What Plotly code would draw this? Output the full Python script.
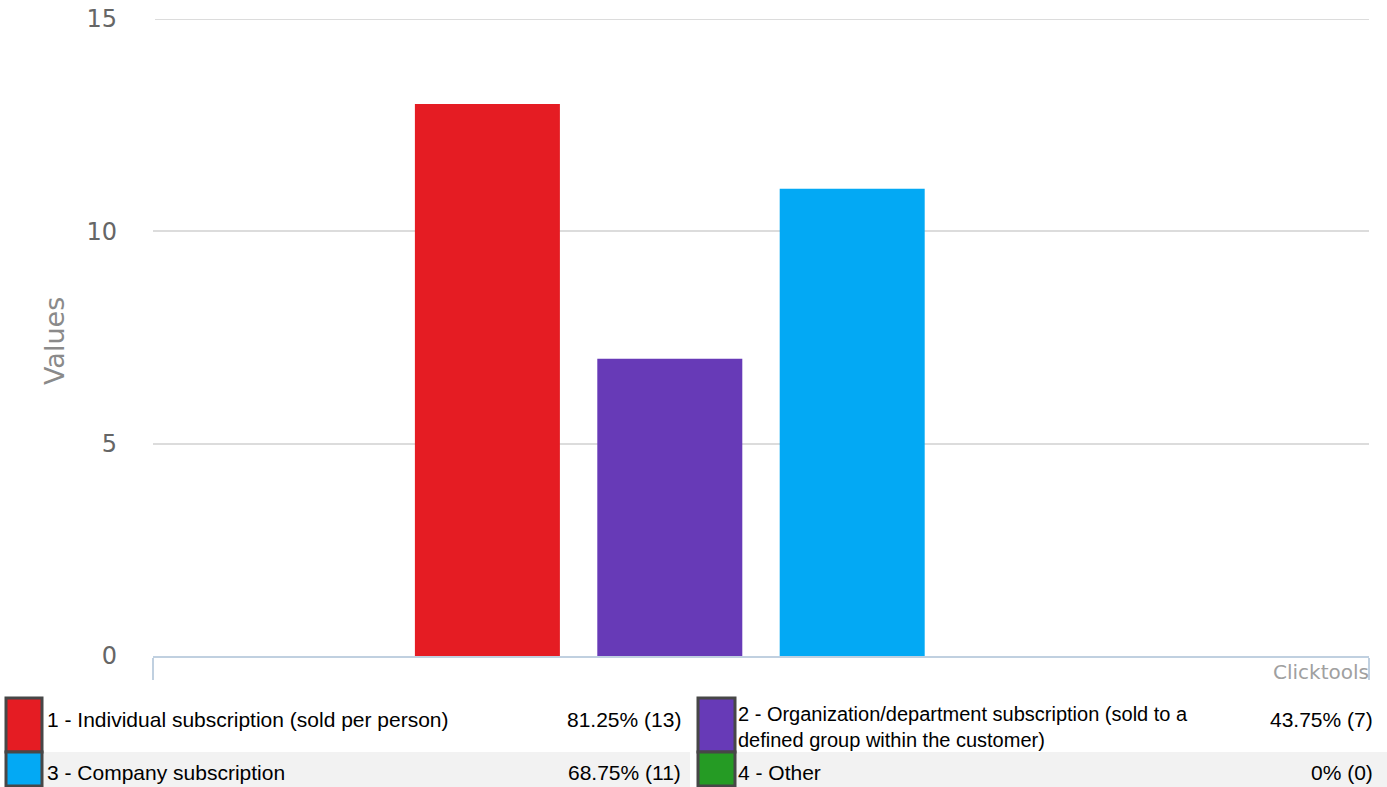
import plotly.graph_objects as go

# ---- data ----
categories = ["Responses"]
series_names = [
    "1 - Individual subscription (sold per person)",
    "2 - Organization/department subscription (sold to a<br>defined group within the customer)",
    "3 - Company subscription",
    "4 - Other",
]
series_values = [13, 7, 11, 0]
percent_labels = ["81.25%", "43.75%", "68.75%", "0%"]
series_colors = ["#E51C23", "#673AB7", "#03A9F4", "#259B24"]
y_tickvals = [0, 5, 10, 15]

W, H = 1387, 787
L, R, T, B = 153, 18, 19, 131
PW, PH = W - L - R, H - T - B


def px_x(x):
    return (x - L) / PW


def px_y(y):
    return (H - B - y) / PH


fig = go.Figure()
for name, val, col in zip(series_names, series_values, series_colors):
    fig.add_trace(go.Bar(x=categories, y=[val], name=name, marker=dict(color=col, line=dict(width=0)),
                         showlegend=False))

shapes = []
annotations = []

# top gridline (plotly skips the grid line lying on the plot edge)
shapes.append(dict(type="line", xref="paper", yref="y", x0=px_x(155), x1=1, y0=y_tickvals[-1], y1=y_tickvals[-1],
                   line=dict(color="#DCDCDC", width=2), layer="below"))

# legend table: background stripe of second row
shapes.append(dict(type="rect", xref="paper", yref="paper", x0=px_x(6), x1=px_x(690), y0=px_y(787), y1=px_y(752),
                   fillcolor="#F2F2F2", line=dict(width=0), layer="below"))
shapes.append(dict(type="rect", xref="paper", yref="paper", x0=px_x(697), x1=px_x(1387), y0=px_y(787), y1=px_y(752),
                   fillcolor="#F2F2F2", line=dict(width=0), layer="below"))

cells = [
    dict(bx0=6, bx1=42, by0=698, by1=752, tx=45, rx=683, ty=719),
    dict(bx0=698, bx1=735, by0=698, by1=752, tx=736, rx=1375, ty=719),
    dict(bx0=6, bx1=42, by0=752, by1=786, tx=45, rx=683, ty=772),
    dict(bx0=698, bx1=735, by0=752, by1=786, tx=736, rx=1375, ty=772),
]
FONT = "Liberation Sans, Arial, sans-serif"
FS = 21
for i, c in enumerate(cells):
    shapes.append(dict(type="rect", xref="paper", yref="paper",
                       x0=px_x(c["bx0"]), x1=px_x(c["bx1"]), y0=px_y(c["by1"]), y1=px_y(c["by0"]),
                       fillcolor=series_colors[i], line=dict(color="#474747", width=3)))
    name = series_names[i]
    multiline = "<br>" in name
    annotations.append(dict(xref="paper", yref="paper", x=px_x(c["tx"]),
                            y=px_y(c["ty"] + 8) if multiline else px_y(c["ty"]),
                            text=name, showarrow=False, xanchor="left", yanchor="middle", align="left",
                            font=dict(family=FONT, size=FS if not multiline else 20, color="#000")))
    annotations.append(dict(xref="paper", yref="paper", x=px_x(c["rx"]), y=px_y(c["ty"]),
                            text=f"{percent_labels[i]} ({series_values[i]})", showarrow=False,
                            xanchor="right", yanchor="middle",
                            font=dict(family=FONT, size=FS, color="#000")))

# axis title
annotations.append(dict(xref="paper", yref="paper", x=px_x(54), y=px_y(341), text="Values", textangle=-90,
                        showarrow=False, xanchor="center", yanchor="middle",
                        font=dict(family="DejaVu Sans", size=27, color="#8A8A8A")))
# credits
annotations.append(dict(xref="paper", yref="paper", x=px_x(1371), y=px_y(672), text="Clicktools",
                        showarrow=False, xanchor="right", yanchor="middle",
                        font=dict(family="DejaVu Sans", size=20, color="#A0A0A0")))

fig.update_layout(
    width=W, height=H,
    margin=dict(l=L, r=R, t=T, b=B, pad=0, autoexpand=False),
    paper_bgcolor="white", plot_bgcolor="white",
    barmode="group", bargap=0.4, bargroupgap=0.205,
    showlegend=False,
    shapes=shapes, annotations=annotations,
    xaxis=dict(type="category", showticklabels=False, showgrid=False, tickson="boundaries",
               ticks="outside", ticklen=22, tickwidth=2, tickcolor="#C0D0E0", automargin=False,
               showline=True, linecolor="#C0D0E0", linewidth=2, zeroline=False, fixedrange=True),
    yaxis=dict(range=[0, 15], tickvals=y_tickvals, showgrid=True, gridcolor="#DCDCDC", gridwidth=2,
               zeroline=False, showline=False, ticks="", ticklabelstandoff=35, automargin=False,
               tickfont=dict(family="DejaVu Sans", size=24, color="#666666"), fixedrange=True),
)

fig.write_html("out.html")
